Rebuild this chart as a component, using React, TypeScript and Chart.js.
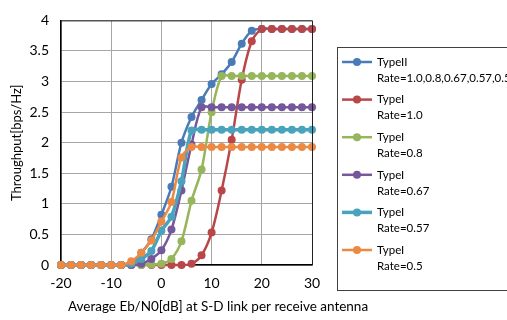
import React, { useEffect, useRef } from "react";
import { Chart, registerables } from "chart.js";

Chart.register(...registerables);

const ebn0 = [-20, -18, -16, -14, -12, -10, -8, -6, -4, -2, 0, 2, 4, 6, 8, 10, 12, 14, 16, 18, 20, 22, 24, 26, 28, 30];

const typeII = [0, 0, 0, 0, 0, 0, 0, 0.03, 0.2, 0.42, 0.82, 1.28, 2.0, 2.42, 2.7, 2.96, 3.12, 3.32, 3.62, 3.83, 3.86, 3.86, 3.86, 3.86, 3.86, 3.86];
const typeIRate10 = [0, 0, 0, 0, 0, 0, 0, 0, 0, 0, 0, 0, 0, 0.02, 0.16, 0.53, 1.22, 2.05, 3.03, 3.66, 3.86, 3.86, 3.86, 3.86, 3.86, 3.86];
const typeIRate08 = [0, 0, 0, 0, 0, 0, 0, 0, 0, 0.01, 0.02, 0.1, 0.39, 1.05, 1.56, 2.5, 3.09, 3.09, 3.09, 3.09, 3.09, 3.09, 3.09, 3.09, 3.09, 3.09];
const typeIRate067 = [0, 0, 0, 0, 0, 0, 0, 0, 0.02, 0.1, 0.24, 0.58, 1.22, 1.97, 2.58, 2.58, 2.58, 2.58, 2.58, 2.58, 2.58, 2.58, 2.58, 2.58, 2.58, 2.58];
const typeIRate057 = [0, 0, 0, 0, 0, 0, 0, 0.02, 0.1, 0.23, 0.56, 0.79, 1.37, 2.2, 2.21, 2.21, 2.21, 2.21, 2.21, 2.21, 2.21, 2.21, 2.21, 2.21, 2.21, 2.21];
const typeIRate05 = [0, 0, 0, 0, 0, 0, 0, 0.06, 0.2, 0.4, 0.71, 1.03, 1.76, 1.93, 1.93, 1.93, 1.93, 1.93, 1.93, 1.93, 1.93, 1.93, 1.93, 1.93, 1.93, 1.93];

const seriesValues = [typeII, typeIRate10, typeIRate08, typeIRate067, typeIRate057, typeIRate05];
const seriesType = ["TypeII", "TypeI", "TypeI", "TypeI", "TypeI", "TypeI"];
const seriesRate = ["Rate=1.0,0.8,0.67,0.57,0.5", "Rate=1.0", "Rate=0.8", "Rate=0.67", "Rate=0.57", "Rate=0.5"];
const seriesColors = ["#4A7BB7", "#B9474A", "#97B55A", "#74589B", "#4AA3BD", "#EC8A43"];
const seriesWidths = [2.5, 2.5, 2.5, 2.5, 3.5, 2.5];

const xTitle = "Average Eb/N0[dB] at S-D link per receive antenna";
const yTitle = "Throughput[bps/Hz]";

const FONT = "Lato, 'Noto Sans', sans-serif";

const extrasPlugin = {
  id: "extras",
  afterDraw(chart: any) {
    const ctx = chart.ctx as CanvasRenderingContext2D;
    const a = chart.chartArea;
    ctx.save();
    ctx.strokeStyle = "#222";
    ctx.lineWidth = 1;
    ctx.beginPath();
    ctx.moveTo(a.left, a.top + 0.5);
    ctx.lineTo(a.right + 0.5, a.top + 0.5);
    ctx.lineTo(a.right + 0.5, a.bottom);
    ctx.stroke();

    ctx.fillStyle = "#000";
    ctx.font = `13.5px ${FONT}`;
    ctx.textAlign = "center";
    ctx.textBaseline = "middle";
    ctx.fillText(xTitle, 218, 307);

    ctx.strokeStyle = "#404040";
    ctx.lineWidth = 1;
    ctx.strokeRect(337.5, 47.5, 220, 243);
    const y0 = 62;
    const step = 37.6;
    ctx.font = `11.5px ${FONT}`;
    ctx.textAlign = "left";
    for (let i = 0; i < seriesValues.length; i++) {
      const y = y0 + i * step;
      ctx.strokeStyle = seriesColors[i];
      ctx.lineWidth = seriesWidths[i];
      ctx.beginPath();
      ctx.moveTo(342, y);
      ctx.lineTo(372, y);
      ctx.stroke();
      ctx.fillStyle = seriesColors[i];
      ctx.beginPath();
      ctx.arc(357, y, 4, 0, Math.PI * 2);
      ctx.fill();
      ctx.fillStyle = "#000";
      ctx.fillText(seriesType[i], 377, y);
      ctx.fillText(seriesRate[i], 377, y + 16);
    }
    ctx.restore();
  },
};

export default function App() {
  const ref = useRef<HTMLCanvasElement | null>(null);
  useEffect(() => {
    if (!ref.current) return;
    const chart = new Chart(ref.current, {
      type: "line",
      data: {
        datasets: seriesValues.map((vals, i) => ({
          label: seriesType[i] + " " + seriesRate[i],
          data: ebn0.map((x, j) => ({ x, y: vals[j] })),
          borderColor: seriesColors[i],
          backgroundColor: seriesColors[i],
          borderWidth: seriesWidths[i],
          pointRadius: 4,
          pointBorderWidth: 0,
          pointHoverRadius: 4,
          tension: 0.3,
          fill: false,
          order: seriesValues.length - i,
          clip: 6,
        })),
      },
      options: {
        responsive: false,
        animation: false,
        layout: { padding: { left: 0, right: 195, top: 13, bottom: 0 } },
        plugins: { legend: { display: false }, tooltip: { enabled: false } },
        scales: {
          x: {
            type: "linear",
            min: -20,
            max: 30,
            ticks: { stepSize: 10, color: "#000", font: { family: FONT, size: 14 }, padding: 10 },
            grid: { color: "#a6a6a6", drawTicks: false },
            border: { color: "#000", width: 1.5 },
            afterFit: (s: any) => { s.height = 55; },
          },
          y: {
            min: 0,
            max: 4,
            ticks: {
              stepSize: 0.5,
              color: "#000",
              font: { family: FONT, size: 14 },
              padding: 12,
              callback: (v: any) => String(Number(v)),
            },
            grid: { color: "#a6a6a6", drawTicks: false },
            border: { color: "#000", width: 1.5 },
            title: { display: true, text: yTitle, color: "#000", font: { family: FONT, size: 13 }, padding: { top: 9, bottom: 0 } },
            afterFit: (s: any) => { s.width = 61; },
          },
        },
      },
      plugins: [extrasPlugin],
    });
    return () => chart.destroy();
  }, []);
  return (
    <div style={{ position: "absolute", left: 0, top: 0, width: 507, height: 320, background: "#fff" }}>
      <canvas ref={ref} width={507} height={320} />
    </div>
  );
}
